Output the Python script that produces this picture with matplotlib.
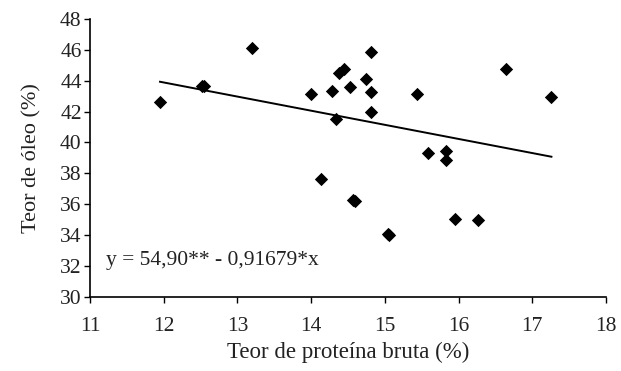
import matplotlib
matplotlib.use("Agg")
import matplotlib.pyplot as plt
import numpy as np

# Scatter data
protein = [11.95, 12.55, 12.52, 13.20, 14.00, 14.29, 14.53, 14.38, 14.45,
           14.34, 14.14, 14.59, 14.57, 14.81, 14.75, 14.81, 14.81, 15.44,
           16.64, 17.26, 15.59, 15.83, 15.83, 15.06, 15.04, 15.95, 16.27]
oil = [42.65, 43.70, 43.65, 46.15, 43.15, 43.35, 43.60, 44.50, 44.80,
       41.55, 37.65, 36.20, 36.25, 45.85, 44.15, 43.30, 41.95, 43.15,
       44.80, 42.95, 39.30, 39.45, 38.85, 34.00, 34.05, 35.05, 35.00]

intercept = 54.90
slope = -0.91679
x_ticks = [11, 12, 13, 14, 15, 16, 17, 18]
y_ticks = [30, 32, 34, 36, 38, 40, 42, 44, 46, 48]

plt.rcParams["font.family"] = ["Liberation Serif", "DejaVu Serif"]
text_color = "#222222"

fig = plt.figure(figsize=(6.21, 3.71), dpi=100)
ax = fig.add_axes([0.1449, 0.2008, 0.8309, 0.7472])

ax.scatter(protein, oil, marker="D", s=46, color="black", linewidths=0, zorder=3)

x_fit = np.array([min(protein), max(protein)])
ax.plot(x_fit, intercept + slope * x_fit, color="black", linewidth=1.4)

ax.text(11.22, 32.37, "y = 54,90** - 0,91679*x", fontsize=15.5,
        color=text_color, va="center", ha="left")

ax.set_xlim(11, 18)
ax.set_ylim(30, 48)
ax.set_xticks(x_ticks)
ax.set_yticks(y_ticks)
ax.tick_params(direction="out", length=4, width=1, labelsize=15.5,
               labelcolor=text_color, color="black")
ax.tick_params(axis="x", pad=11)
ax.tick_params(axis="y", pad=2)
for side in ["top", "right"]:
    ax.spines[side].set_visible(False)
for side in ["left", "bottom"]:
    ax.spines[side].set_linewidth(1.2)

ax.set_xlabel("Teor de proteína bruta (%)", fontsize=16.5, color=text_color,
              labelpad=4)
ax.set_ylabel("Teor de óleo (%)", fontsize=16, color=text_color, labelpad=13)

fig.savefig("out.png", dpi=100)
